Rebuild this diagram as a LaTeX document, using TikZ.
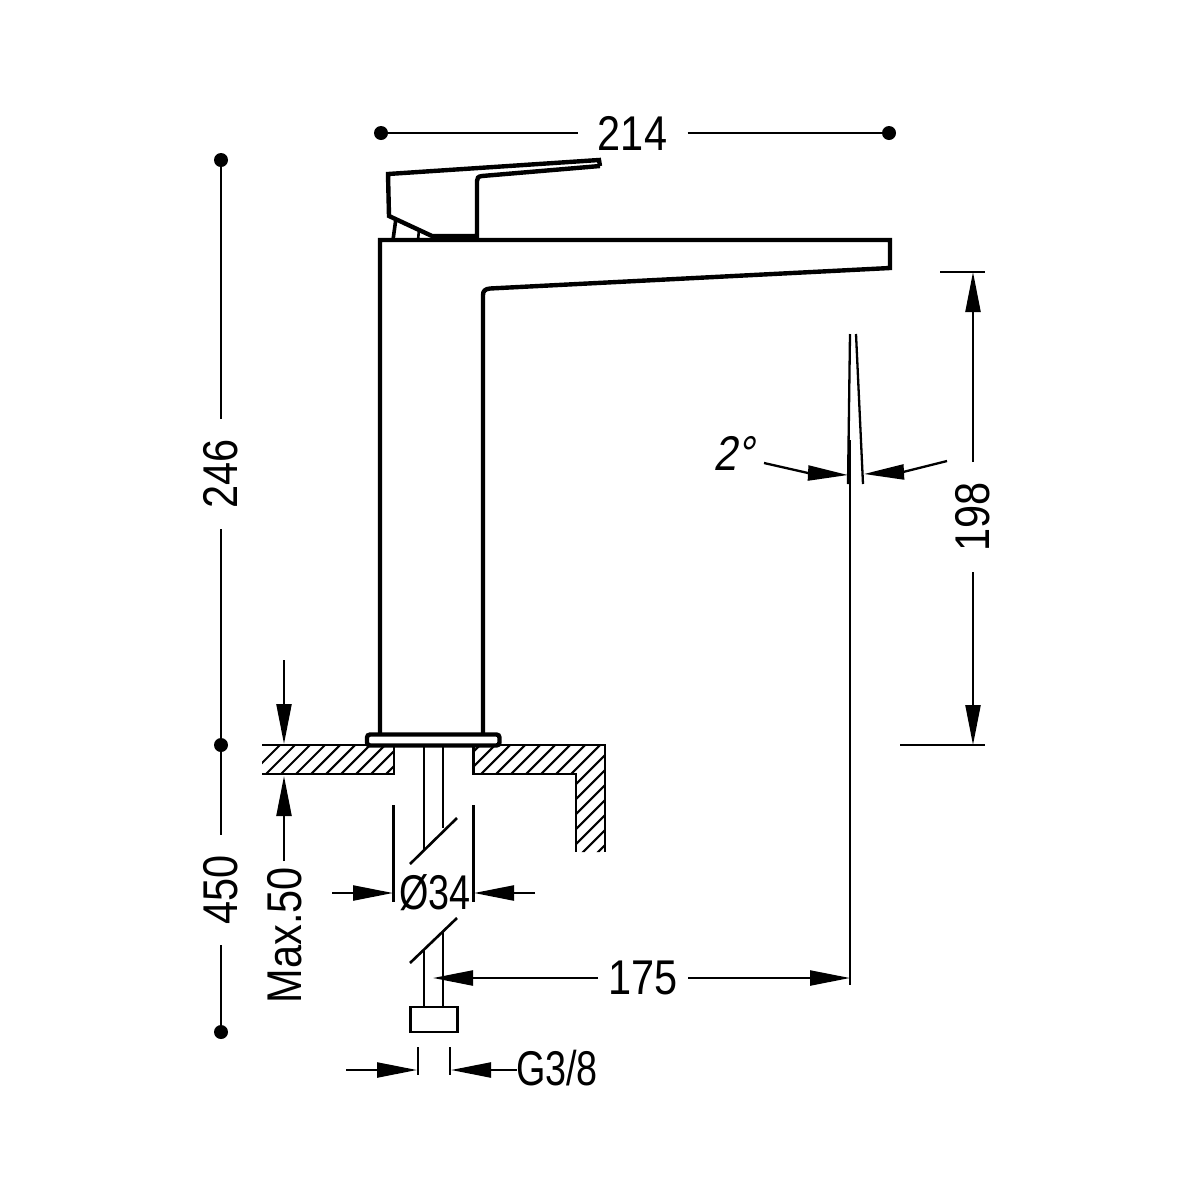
\documentclass[tikz,border=0pt]{standalone}
\usepackage{fontspec}
\setmainfont[FakeStretch=0.85]{Liberation Sans}
\usetikzlibrary{arrows.meta}
\tikzset{
  thick line/.style={line width=2.2pt,line join=miter},
  mid line/.style={line width=1.3pt},
  hatch line/.style={line width=1.05pt},
  dim line/.style={line width=1.15pt},
  to tip/.style={-{Triangle[length=20pt,width=7.5pt]}},
  dim text/.style={font=\fontsize{24.4}{28}\selectfont,inner ysep=0pt,inner xsep=10pt},
  dotmark/.style={circle,fill=black,inner sep=0pt,minimum size=7pt},
}
\begin{document}
\begin{tikzpicture}[x=0.5pt,y=-0.5pt]
\useasboundingbox (0,0) rectangle (1200,1200);
% faucet body
\draw[thick line] (380,733) -- (380,240) -- (890,240) -- (890,268) -- (490,288.5)
  .. controls (485,289) and (483,291) .. (483,295) -- (483,733);
% lever
\draw[thick line] (600,166) -- (599,160) -- (388,174) -- (389,216) -- (432,236) -- (477,236) -- (477,181)
  .. controls (477,178) and (478,176.5) .. (482,176) -- (600,166);
\fill (432,235) rectangle (477,240);
\draw[line width=1.8pt] (396,218) -- (393,240);
\draw[line width=1.3pt] (419,230) -- (418,240);
% flange
\draw[thick line,rounded corners=1.5pt,fill=white] (367,734.5) rectangle (499.5,745.5);
% counter hatching
\begin{scope}
  \clip (262,745) -- (394,745) -- (394,774) -- (262,774) -- cycle;
  \foreach \k in {0,1,...,12} {\draw[hatch line] (240+15*\k,785) -- (290+15*\k,735);}
\end{scope}
\begin{scope}
  \clip (473,745) -- (605,745) -- (605,852) -- (576,852) -- (576,774) -- (473,774) -- cycle;
  \foreach \k in {0,1,...,18} {\draw[hatch line] (340+15*\k,870) -- (540+15*\k,670);}
\end{scope}
\draw[mid line] (262,745) -- (394,745) -- (394,774) -- (262,774);
\draw[mid line] (473,745) -- (605,745) -- (605,852);
\draw[mid line] (473.5,745) -- (473.5,774) -- (576,774) -- (576,852);
% pipes
\draw[mid line] (424,746) -- (424,850);
\draw[dim line] (443,746) -- (443,828);
\draw[mid line] (410,864) -- (457,818);
\draw[mid line] (410,963) -- (457,918);
\draw[mid line] (424,949) -- (424,1007);
\draw[mid line] (443,932) -- (443,1007);
\draw[mid line] (410.5,1007) rectangle (457.5,1032);
% extension lines
\draw[dim line] (393.5,805) -- (393.5,902);
\draw[dim line] (473.5,805) -- (473.5,902);
\draw[dim line] (418,1047) -- (418,1075);
\draw[dim line] (450,1047) -- (450,1075);
\draw[dim line] (940,272) -- (985,272);
\draw[dim line] (900,745) -- (985,745);
% spout angle lines
\draw[dim line] (850,334) -- (848,484);
\draw[dim line] (856,334) -- (863,484);
\draw[mid line] (850,440) -- (850,985);
% dots and dimension nodes
\node[dotmark] (d1) at (381,133) {};
\node[dotmark] (d2) at (889,133) {};
\node[dotmark] (v1) at (221,160) {};
\node[dotmark] (v2) at (221,745) {};
\node[dotmark] (v3) at (221,1032) {};
\node[dim text] (t214) at (632.5,133) {214};
\node[dim text,rotate=90] (t246) at (221,474) {246};
\node[dim text,rotate=90] (t450) at (221,890) {450};
\node[dim text,rotate=90,inner xsep=0pt] (t50) at (285,935) {Max.50};
\node[dim text,rotate=90] (t198) at (973,517) {198};
\node[dim text,inner xsep=0pt,xscale=0.91] (t34) at (435,893) {Ø34};
\node[dim text,inner xsep=5pt] (t175) at (643,978) {175};
\node[dim text,inner xsep=0pt,xscale=0.91] (tg) at (557,1068) {G3/8};
\node[dim text,inner xsep=0pt,xslant=0.2] (t2) at (737,453) {2°};
% free ends
\coordinate (a1) at (284,660); \coordinate (a2) at (284,744);
\coordinate (a3) at (284,861); \coordinate (a4) at (284,776);
\coordinate (b1) at (332,893); \coordinate (b2) at (393,893);
\coordinate (b3) at (535,893); \coordinate (b4) at (474,893);
\coordinate (c2) at (433,977); \coordinate (c3) at (850,977);
\coordinate (e1) at (346,1070); \coordinate (e2) at (417,1070);
\coordinate (e3) at (517,1070); \coordinate (e4) at (451,1070);
\coordinate (f1) at (973,272); \coordinate (f2) at (973,745);
\coordinate (g1) at (764,463); \coordinate (g2) at (848,475);
\coordinate (g3) at (947,461); \coordinate (g4) at (864,474);
% dimension connectors
\draw[dim line] (d1) -- (t214.west);
\draw[dim line] (t214.east) -- (d2);
\draw[dim line] (v1) -- (t246.east);
\draw[dim line] (t246.west) -- (v2);
\draw[dim line] (v2) -- (t450.east);
\draw[dim line] (t450.west) -- (v3);
\draw[dim line,to tip] (a1) -- (a2);
\draw[dim line,to tip] (a3) -- (a4);
\draw[dim line,to tip] (b1) -- (b2);
\draw[dim line,to tip] (b3) -- (b4);
\draw[dim line,to tip] (t175.west) -- (t175.west -| c2);
\draw[dim line,to tip] (t175.east) -- (t175.east -| c3);
\draw[dim line,to tip] (e1) -- (e2);
\draw[dim line,to tip] (e3) -- (e4);
\draw[dim line,to tip] (t198.east) -- (f1);
\draw[dim line,to tip] (t198.west) -- (f2);
\draw[dim line] (g1) -- (808,473);
\draw[dim line,to tip] (808,473) -- (g2);
\draw[dim line] (g3) -- (903,472);
\draw[dim line,to tip] (903,472) -- (g4);
\end{tikzpicture}
\end{document}
